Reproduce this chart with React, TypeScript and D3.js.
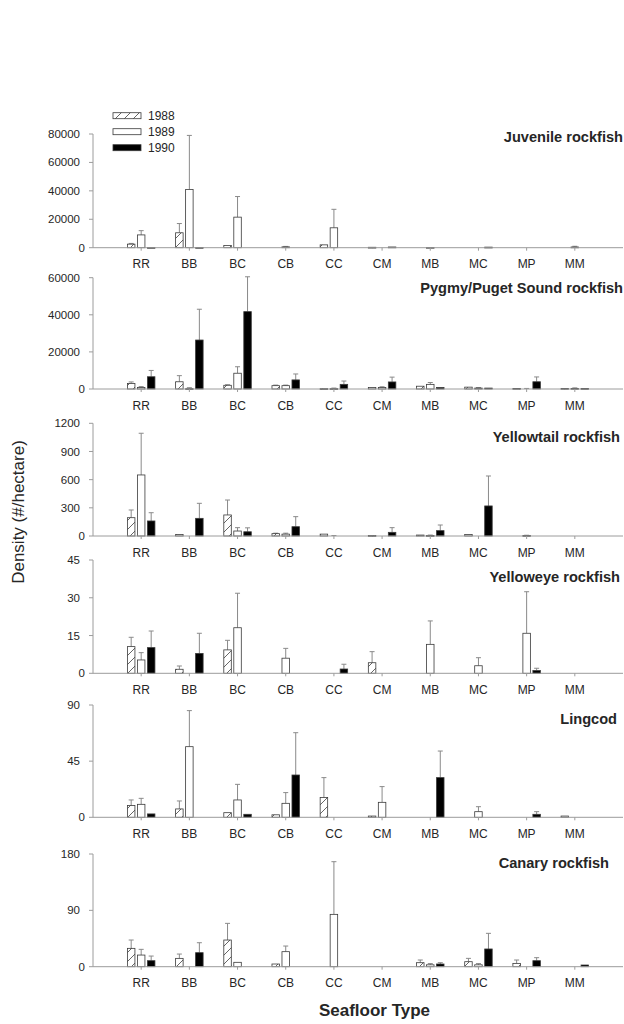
import React from 'react';
import * as d3 from 'd3';

const categories = ['RR', 'BB', 'BC', 'CB', 'CC', 'CM', 'MB', 'MC', 'MP', 'MM'];
const years = ['1988', '1989', '1990'];
const speciesNames = [
  'Juvenile rockfish',
  'Pygmy/Puget Sound rockfish',
  'Yellowtail rockfish',
  'Yelloweye rockfish',
  'Lingcod',
  'Canary rockfish',
];
const yMaxima = [80000, 60000, 1200, 45, 90, 180];
const yTickSteps = [20000, 20000, 300, 15, 45, 90];

// Juvenile rockfish
const juv1988 = [2500, 10500, 1500, 0, 2000, 300, 0, 0, 0, 0];
const juv1988Err = [500, 6500, 0, 0, 0, 0, 0, 0, 0, 0];
const juv1989 = [9000, 41000, 21500, 600, 14000, 0, 200, 0, 0, 500];
const juv1989Err = [3000, 38000, 14500, 300, 13000, 0, 0, 0, 0, 500];
const juv1990 = [200, 200, 0, 0, 0, 500, 0, 400, 0, 0];
const juv1990Err = [0, 0, 0, 0, 0, 0, 0, 0, 0, 0];

// Pygmy/Puget Sound rockfish
const pyg1988 = [3000, 3900, 2000, 1800, 200, 800, 1500, 1000, 300, 300];
const pyg1988Err = [800, 3300, 300, 300, 0, 0, 0, 0, 0, 0];
const pyg1989 = [800, 200, 8500, 1800, 200, 800, 2500, 500, 0, 300];
const pyg1989Err = [500, 500, 3500, 300, 300, 400, 1000, 300, 300, 300];
const pyg1990 = [6600, 26400, 41700, 4900, 2500, 3800, 800, 500, 3900, 300];
const pyg1990Err = [3400, 16600, 18800, 3200, 1800, 2600, 0, 0, 2600, 0];

// Yellowtail rockfish
const ylt1988 = [195, 15, 224, 25, 20, 5, 10, 15, 0, 0];
const ylt1988Err = [82, 0, 159, 5, 0, 0, 0, 0, 0, 0];
const ylt1989 = [650, 0, 53, 20, 0, 0, 5, 0, 5, 0];
const ylt1989Err = [444, 0, 36, 10, 5, 0, 5, 0, 3, 0];
const ylt1990 = [160, 188, 45, 99, 0, 39, 57, 320, 0, 0];
const ylt1990Err = [88, 160, 42, 107, 0, 50, 60, 319, 0, 0];

// Yelloweye rockfish
const yle1988 = [10.6, 1.6, 9.3, 0, 0, 4.2, 0, 0, 0, 0];
const yle1988Err = [3.7, 1.3, 3.8, 0, 0, 4.4, 0, 0, 0, 0];
const yle1989 = [5.3, 0, 18.1, 6, 0, 0, 11.5, 3, 15.9, 0];
const yle1989Err = [2.9, 0, 13.7, 3.9, 0, 0, 9.3, 3.2, 16.5, 0];
const yle1990 = [10.2, 7.9, 0, 0, 1.7, 0, 0, 0, 1.1, 0];
const yle1990Err = [6.6, 8, 0, 0, 1.9, 0, 0, 0, 0.9, 0];

// Lingcod
const lng1988 = [9.4, 6.7, 3.7, 2, 15.8, 1, 0, 0, 0, 1];
const lng1988Err = [4.5, 6.4, 0, 0, 16, 0, 0, 0, 0, 0];
const lng1989 = [10.4, 56.6, 13.9, 11.2, 0, 12, 0, 4.5, 0, 0];
const lng1989Err = [4.8, 28.9, 12.5, 8.6, 0, 12.6, 0, 4, 0, 0];
const lng1990 = [2.7, 0, 2.4, 33.9, 0, 0, 31.8, 0, 2.4, 0];
const lng1990Err = [0, 0, 0, 33.9, 0, 0, 21.3, 0, 2.1, 0];

// Canary rockfish
const can1988 = [29.3, 13.3, 42.6, 4.3, 0, 0, 6.4, 8, 5.3, 0];
const can1988Err = [13.3, 6.9, 26.6, 0, 0, 0, 4.3, 5.3, 5.4, 0];
const can1989 = [18.6, 0, 7, 24, 83.6, 0, 3, 3, 0, 0];
const can1989Err = [9.1, 0, 0, 9, 84.1, 0, 2, 2, 0, 0];
const can1990 = [9.6, 22.4, 0, 0, 0, 0, 4.3, 28.3, 9.6, 2.7];
const can1990Err = [7.4, 15.9, 0, 0, 0, 0, 2.1, 25, 4.8, 0];

const panelMeans = [
  [juv1988, juv1989, juv1990],
  [pyg1988, pyg1989, pyg1990],
  [ylt1988, ylt1989, ylt1990],
  [yle1988, yle1989, yle1990],
  [lng1988, lng1989, lng1990],
  [can1988, can1989, can1990],
];
const panelErrs = [
  [juv1988Err, juv1989Err, juv1990Err],
  [pyg1988Err, pyg1989Err, pyg1990Err],
  [ylt1988Err, ylt1989Err, ylt1990Err],
  [yle1988Err, yle1989Err, yle1990Err],
  [lng1988Err, lng1989Err, lng1990Err],
  [can1988Err, can1989Err, can1990Err],
];

// layout
const W = 624;
const H = 1024;
const axisLeft = 93;
const axisRight = 623;
const panelTops = [134, 277.7, 423.3, 560, 705, 854];
const panelBottoms = [247.7, 389, 536, 673.3, 817.3, 966.7];
const titleRight = [623, 623, 620, 620, 617, 609];
const titleY = [142, 293, 442, 582, 724, 868];
const barOffsets = [-10, 0, 10];
const barW = 7.5;
const FONT = 'Arial, "Liberation Sans", Helvetica, sans-serif';
const axisColor = '#9c9c9c';
const textColor = '#262626';
const barStroke = '#3a3a3a';
const errColor = '#8a8a8a';

const fills = ['url(#hatch)', '#ffffff', '#000000'];

export default function App() {
  const x = d3.scaleLinear().domain([0, categories.length + 1]).range([axisLeft, axisRight]);

  return (
    <svg
      width={W}
      height={H}
      viewBox={`0 0 ${W} ${H}`}
      style={{ position: 'absolute', left: 0, top: 0, background: '#fff' }}
      fontFamily={FONT}
    >
      <defs>
        <pattern id="hatch" patternUnits="userSpaceOnUse" width="9" height="9">
          <rect width="9" height="9" fill="#fff" />
          <path d="M0,9 L9,0 M-2,2 L2,-2 M7,11 L11,7" stroke="#555" strokeWidth="0.9" />
        </pattern>
      </defs>
      <rect width={W} height={H} fill="#fff" />

      {speciesNames.map((name, p) => {
        const y = d3.scaleLinear().domain([0, yMaxima[p]]).range([panelBottoms[p], panelTops[p]]);
        const ticks = d3.range(0, yMaxima[p] + yTickSteps[p] / 2, yTickSteps[p]);
        const base = panelBottoms[p];
        return (
          <g key={name}>
            {categories.map((c, i) =>
              years.map((yr, k) => {
                const v = panelMeans[p][k][i];
                const e = panelErrs[p][k][i];
                const cx = x(i + 1) + barOffsets[k];
                return (
                  <g key={c + yr}>
                    {e > 0 && (
                      <g stroke={errColor} strokeWidth={1}>
                        <line x1={cx} x2={cx} y1={y(v)} y2={y(v + e)} />
                        <line x1={cx - 2.5} x2={cx + 2.5} y1={y(v + e)} y2={y(v + e)} />
                      </g>
                    )}
                    {v > 0 && (
                      <rect
                        x={cx - barW / 2}
                        y={y(v)}
                        width={barW}
                        height={Math.max(0.8, base - y(v))}
                        fill={fills[k]}
                        stroke={barStroke}
                        strokeWidth={0.8}
                      />
                    )}
                  </g>
                );
              })
            )}
            <line x1={axisLeft} x2={axisLeft} y1={panelTops[p]} y2={base} stroke={axisColor} strokeWidth={1} />
            {ticks.map((t) => (
              <g key={t}>
                <line x1={axisLeft - 4} x2={axisLeft} y1={y(t)} y2={y(t)} stroke={axisColor} strokeWidth={1} />
                <text
                  x={t === 0 ? 85 : 80}
                  y={y(t)}
                  dy="0.35em"
                  textAnchor="end"
                  fontSize={11.5}
                  fill={textColor}
                >
                  {t}
                </text>
              </g>
            ))}
            <line x1={axisLeft} x2={axisRight} y1={base} y2={base} stroke={axisColor} strokeWidth={1} />
            {categories.map((c, i) => (
              <g key={c}>
                <line x1={x(i + 1)} x2={x(i + 1)} y1={base} y2={base + 3} stroke={axisColor} strokeWidth={1} />
                <text x={x(i + 1)} y={base + 20.5} textAnchor="middle" fontSize={12} fill={textColor}>
                  {c}
                </text>
              </g>
            ))}
            <text x={titleRight[p]} y={titleY[p]} textAnchor="end" fontSize={14.6} fontWeight="bold" fill={textColor}>
              {name}
            </text>
          </g>
        );
      })}

      {years.map((yr, k) => (
        <g key={yr}>
          <rect x={113} y={112.7 + k * 16} width={28} height={6} fill={fills[k]} stroke={barStroke} strokeWidth={0.8} />
          <text x={148} y={115.7 + k * 16} dy="0.35em" fontSize={12} fill={textColor}>
            {yr}
          </text>
        </g>
      ))}

      <text
        transform="translate(24,512) rotate(-90)"
        textAnchor="middle"
        fontSize={17}
        fill={textColor}
      >
        Density (#/hectare)
      </text>
      <text x={374.5} y={1016} textAnchor="middle" fontSize={17} fontWeight="bold" fill={textColor}>
        Seafloor Type
      </text>
    </svg>
  );
}
